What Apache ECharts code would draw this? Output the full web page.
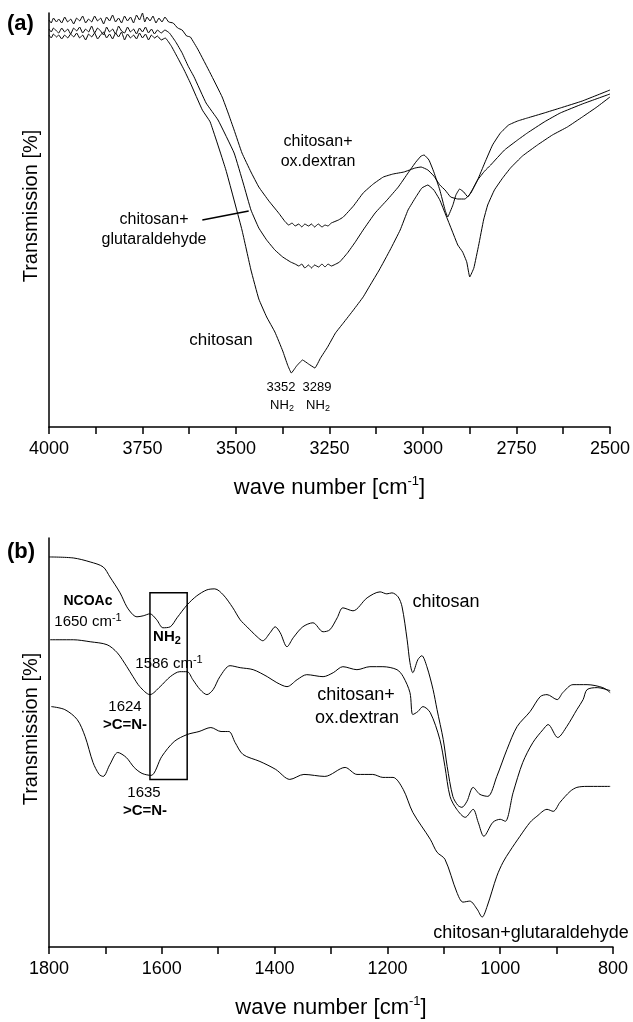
<!DOCTYPE html>
<html>
<head>
<meta charset="utf-8">
<script src="https://cdn.jsdelivr.net/npm/echarts@6/dist/echarts.min.js"></script>
<style>
  html, body { margin: 0; padding: 0; background: #fff; }
  #main { width: 633px; height: 1022px; }
</style>
</head>
<body>
<div id="main"></div>
<script>
// (a) 4000-2500 cm-1, transmission in arbitrary units
const ticksA = [4000, 3750, 3500, 3250, 3000, 2750, 2500];
const oxDextranA = [
  [4000,407],[3994,404],[3988,409],[3980,405],[3974,408],[3966,404],[3958,410],[3950,405],[3942,408],[3934,403],
  [3926,409],[3918,406],[3910,411],[3902,404],[3894,408],[3886,405],[3878,411],[3870,406],[3862,409],[3854,403],
  [3846,410],[3838,406],[3830,412],[3822,405],[3814,409],[3806,404],[3798,411],[3790,406],[3782,410],[3774,404],
  [3766,412],[3758,407],[3750,414],[3744,405],[3738,410],[3730,406],[3722,411],[3714,404],[3706,409],[3698,405],
  [3690,410],[3680,405],[3668,404],[3656,399],[3644,397],[3632,391],[3622,390],[3601,377],[3569,354],[3537,330],
  [3521,314],[3505,297],[3484,274],[3460,255],[3439,240],[3412,226],[3386,214],[3368,205],[3359,202],[3350,204],
  [3342,201],[3332,203],[3324,200],[3316,203],[3306,201],[3298,203],[3290,200],[3280,203],[3270,200],[3262,202],
  [3254,201],[3245,204],[3226,207],[3213,210],[3186,221],[3160,234],[3133,243],[3106,250],[3080,253],[3051,255],
  [3021,259],[3005,260],[2987,257],[2971,251],[2955,242],[2941,237],[2926,230],[2907,228],[2888,228],[2872,234],
  [2854,247],[2835,264],[2814,282],[2793,294],[2771,302],[2747,306],[2721,309],[2676,314],[2633,319],[2574,326],
  [2500,337]
];
const glutaraldehydeA = [
  [4000,398],[3994,395],[3988,399],[3980,396],[3974,394],[3966,399],[3958,395],[3950,398],[3942,393],[3934,399],
  [3926,396],[3918,400],[3910,394],[3902,398],[3894,395],[3886,401],[3878,394],[3870,399],[3862,396],[3854,392],
  [3846,400],[3838,395],[3830,398],[3822,393],[3814,401],[3806,396],[3798,394],[3790,400],[3782,395],[3774,398],
  [3766,393],[3758,399],[3750,395],[3742,400],[3734,394],[3726,398],[3718,393],[3710,397],[3700,394],[3690,397],
  [3678,394],[3661,385],[3644,374],[3628,361],[3612,350],[3580,324],[3548,307],[3505,274],[3480,243],[3460,217],
  [3439,199],[3418,187],[3396,177],[3375,170],[3354,165],[3342,163],[3332,161],[3324,163],[3316,159],[3306,162],
  [3298,159],[3290,162],[3279,160],[3270,163],[3262,160],[3254,163],[3245,161],[3223,165],[3202,174],[3181,185],
  [3160,197],[3128,214],[3096,227],[3066,240],[3040,254],[3019,265],[3005,271],[2997,272],[2984,267],[2971,255],
  [2955,237],[2941,217],[2934,210],[2920,222],[2912,232],[2902,238],[2891,235],[2880,230],[2867,238],[2854,247],
  [2835,256],[2819,262],[2782,277],[2747,287],[2721,294],[2676,305],[2633,314],[2574,323],[2500,333]
];
const chitosanA = [
  [4000,392],[3994,389],[3988,393],[3980,390],[3974,392],[3966,388],[3958,392],[3950,389],[3942,393],[3934,390],
  [3926,394],[3918,389],[3910,392],[3902,387],[3894,393],[3886,390],[3878,394],[3870,388],[3862,392],[3854,395],
  [3846,389],[3838,393],[3830,388],[3822,394],[3814,390],[3806,395],[3798,387],[3790,393],[3782,389],[3774,392],
  [3766,388],[3758,394],[3750,389],[3742,393],[3734,387],[3726,392],[3718,389],[3710,391],[3700,387],[3689,389],
  [3673,381],[3657,370],[3640,358],[3622,344],[3590,317],[3569,305],[3527,257],[3484,197],[3460,157],[3439,128],
  [3418,110],[3396,95],[3375,76],[3362,62],[3352,54],[3338,61],[3322,67],[3306,63],[3289,59],[3274,69],
  [3255,80],[3234,94],[3213,104],[3186,117],[3160,130],[3141,142],[3117,157],[3088,177],[3061,197],[3040,217],
  [3019,230],[3003,239],[2987,242],[2971,237],[2955,227],[2939,212],[2923,197],[2907,182],[2894,175],[2883,165],
  [2875,150],[2864,159],[2851,182],[2838,207],[2827,222],[2809,237],[2787,249],[2766,259],[2734,271],[2694,282],
  [2654,292],[2614,300],[2574,310],[2535,320],[2500,330]
];

// (b) 1800-800 cm-1
const ticksB = [1800, 1600, 1400, 1200, 1000, 800];
const chitosanB = [
  [1800,391],[1757,390],[1727,386],[1704,381],[1692,371],[1674,355],[1662,341],[1651,333],[1644,331],[1633,332],
  [1621,334],[1609,328],[1598,320],[1585,321],[1573,330],[1555,343],[1538,352],[1520,358],[1506,359],[1491,353],
  [1474,340],[1461,328],[1449,321],[1431,311],[1421,307],[1408,315],[1399,321],[1390,315],[1378,301],[1367,310],
  [1350,321],[1332,325],[1314,316],[1302,318],[1289,330],[1279,340],[1261,337],[1236,350],[1213,356],[1201,354],
  [1192,355],[1181,351],[1174,341],[1165,308],[1160,285],[1155,275],[1146,288],[1139,292],[1130,281],[1119,258],
  [1112,238],[1101,208],[1094,181],[1084,151],[1075,142],[1068,140],[1059,146],[1048,160],[1036,153],[1022,151],
  [1006,171],[988,198],[970,221],[947,236],[929,251],[917,253],[899,248],[889,255],[871,263],[846,263],
  [818,260],[805,255]
];
const oxDextranB = [
  [1798,308],[1757,308],[1727,306],[1697,303],[1679,295],[1662,281],[1651,271],[1639,261],[1621,253],[1603,261],
  [1585,271],[1568,276],[1555,276],[1545,268],[1532,258],[1520,253],[1509,258],[1497,271],[1479,282],[1461,280],
  [1438,278],[1413,271],[1396,265],[1378,261],[1360,268],[1343,273],[1314,271],[1296,275],[1279,281],[1254,278],
  [1231,281],[1208,281],[1183,278],[1172,271],[1160,255],[1155,233],[1146,236],[1137,241],[1124,235],[1107,208],
  [1098,181],[1089,151],[1077,138],[1062,130],[1048,138],[1039,125],[1029,111],[1013,125],[1000,128],[991,126],
  [977,155],[960,185],[942,205],[924,218],[915,223],[898,210],[882,221],[864,238],[853,248],[846,258],
  [828,260],[805,257]
];
const glutaraldehydeB = [
  [1796,241],[1772,238],[1750,228],[1736,211],[1722,185],[1711,173],[1704,171],[1692,183],[1678,195],[1663,190],
  [1649,180],[1635,174],[1619,172],[1600,191],[1578,206],[1555,213],[1534,216],[1513,220],[1495,216],[1481,216],
  [1470,205],[1456,193],[1426,186],[1398,178],[1373,168],[1348,173],[1311,171],[1275,180],[1254,173],[1226,173],
  [1208,170],[1190,170],[1172,158],[1155,135],[1124,108],[1112,95],[1098,88],[1077,55],[1066,45],[1054,46],
  [1041,38],[1032,30],[1023,41],[1006,71],[995,85],[983,96],[965,111],[947,125],[935,131],[917,138],
  [906,136],[894,145],[876,156],[864,160],[846,161],[805,161]
];
// NH2 box (1621-1555 cm-1) and arrow to the glutaraldehyde curve
const nh2Box = [[1621, 355], [1555, 168]];
const arrowA = [[3590, 207], [3466, 216]];

const FONT = '"Liberation Sans", Arial, sans-serif';
const black = '#000';

function axisX(grid, min, max, interval, ticks) {
  return {
    gridIndex: grid, type: 'value', min: min, max: max, interval: interval, inverse: true,
    axisLine: { show: true, onZero: false, lineStyle: { color: black, width: 1.5 } },
    axisTick: { show: true, length: 7, lineStyle: { color: black, width: 1.5 } },
    splitLine: { show: false },
    axisLabel: {
      color: black, fontSize: 18, fontFamily: FONT, margin: 13,
      formatter: function (v) { return ticks.indexOf(v) >= 0 ? String(v) : ''; }
    },
    name: 'wave number [cm{sup|-1}]', nameLocation: 'middle', nameGap: 48,
    nameTextStyle: {
      color: black, fontSize: 22, fontFamily: FONT, lineHeight: 26,
      rich: { sup: { fontSize: 13, fontFamily: FONT, color: black, verticalAlign: 'top', lineHeight: 14 } }
    }
  };
}
function axisY(grid, max) {
  return {
    gridIndex: grid, type: 'value', min: 0, max: max,
    axisLine: { show: true, onZero: false, lineStyle: { color: black, width: 1.5 } },
    axisTick: { show: false }, axisLabel: { show: false }, splitLine: { show: false }
  };
}
function curve(name, data, grid, smooth, extra) {
  return Object.assign({
    name: name, type: 'line', data: data, xAxisIndex: grid, yAxisIndex: grid,
    showSymbol: false, symbol: 'none', smooth: smooth,
    lineStyle: { color: black, width: 1 }, silent: true
  }, extra || {});
}
function txt(x, y, text, size, bold, align) {
  const rich = {
    sup: { fontSize: Math.round(size * 0.7), fontFamily: FONT, fill: black, verticalAlign: 'top', lineHeight: Math.round(size * 0.7) },
    sub: { fontSize: Math.round(size * 0.7), fontFamily: FONT, fontWeight: bold ? 'bold' : 'normal', fill: black, verticalAlign: 'bottom', lineHeight: Math.round(size * 0.7) }
  };
  return {
    type: 'text', x: x, y: y, silent: true,
    style: {
      text: text, fill: black, fontSize: size, fontFamily: FONT, fontWeight: bold ? 'bold' : 'normal',
      lineHeight: Math.round(size * 1.25),
      align: align || 'center', verticalAlign: 'middle',
      textAlign: align || 'center', textVerticalAlign: 'middle', rich: rich
    }
  };
}

const option = {
  animation: false,
  backgroundColor: '#fff',
  grid: [
    { left: 49, top: 13, width: 564, height: 414 },
    { left: 49, top: 538, width: 564, height: 410 }
  ],
  xAxis: [axisX(0, 2500, 4000, 125, ticksA), axisX(1, 800, 1800, 100, ticksB)],
  yAxis: [axisY(0, 414), axisY(1, 410)],
  series: [
    curve('chitosan+ox.dextran', oxDextranA, 0, 0.1),
    curve('chitosan+glutaraldehyde', glutaraldehydeA, 0, 0.1, {
      markLine: {
        silent: true, symbol: ['none', 'arrow'], symbolSize: [0, 10],
        label: { show: false }, lineStyle: { color: black, width: 1.5, type: 'solid' },
        data: [[{ coord: arrowA[0] }, { coord: arrowA[1] }]]
      }
    }),
    curve('chitosan', chitosanA, 0, 0.1),
    curve('chitosan', chitosanB, 1, 0.3, {
      markArea: {
        silent: true,
        itemStyle: { color: 'rgba(0,0,0,0)', borderColor: black, borderWidth: 1.5 },
        data: [[{ coord: nh2Box[0] }, { coord: nh2Box[1] }]]
      }
    }),
    curve('chitosan+ox.dextran', oxDextranB, 1, 0.3),
    curve('chitosan+glutaraldehyde', glutaraldehydeB, 1, 0.3)
  ],
  graphic: [
    txt(7, 24, '(a)', 22, true, 'left'),
    txt(7, 552, '(b)', 22, true, 'left'),
    Object.assign(txt(31, 206, 'Transmission [%]', 20, false), { rotation: Math.PI / 2 }),
    Object.assign(txt(31, 729, 'Transmission [%]', 20, false), { rotation: Math.PI / 2 }),
    txt(318, 142, 'chitosan+', 16, false),
    txt(318, 162, 'ox.dextran', 16, false),
    txt(154, 220, 'chitosan+', 16, false),
    txt(154, 240, 'glutaraldehyde', 16, false),
    txt(221, 340, 'chitosan', 17, false),
    txt(281, 387, '3352', 13, false),
    txt(282, 405, 'NH{sub|2}', 13, false),
    txt(317, 387, '3289', 13, false),
    txt(318, 405, 'NH{sub|2}', 13, false),
    txt(88, 601, 'NCOAc', 14, true),
    txt(88, 622, '1650 cm{sup|-1}', 15, false),
    txt(167, 637, 'NH{sub|2}', 15, true),
    txt(169, 664, '1586 cm{sup|-1}', 15, false),
    txt(125, 707, '1624', 15, false),
    txt(125, 725, '>C=N-', 15, true),
    txt(144, 793, '1635', 15, false),
    txt(145, 811, '>C=N-', 15, true),
    txt(446, 602, 'chitosan', 18, false),
    txt(356, 695, 'chitosan+', 18, false),
    txt(357, 718, 'ox.dextran', 18, false),
    txt(531, 933, 'chitosan+glutaraldehyde', 18, false)
  ]
};

const chart = echarts.init(document.getElementById('main'));
chart.setOption(option);
</script>
</body>
</html>
